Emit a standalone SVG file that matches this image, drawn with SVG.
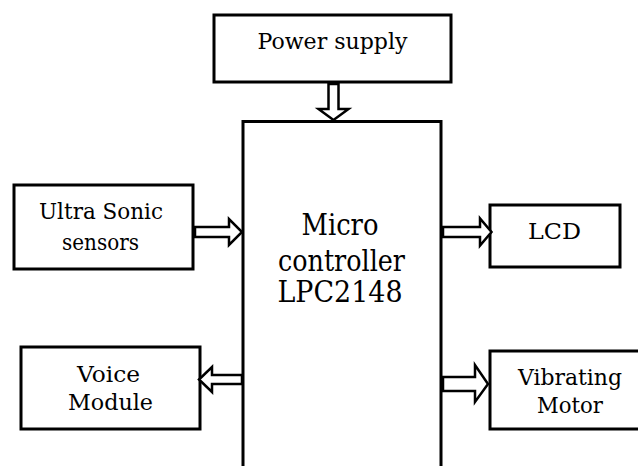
<svg xmlns="http://www.w3.org/2000/svg" width="638" height="466" viewBox="0 0 638 466">
<style>
  .box { fill: #fff; stroke: #000; stroke-width: 3; }
  .arr { fill: #fff; stroke: #000; stroke-width: 2.5; stroke-linejoin: miter; }
  text { font-family: 'DejaVu Serif', serif; fill: #000; text-anchor: middle; }
  .t { font-size: 23px; }
  .tm { font-size: 29px; }
</style>
<rect width="638" height="466" fill="#fff"/>
<g id="power-supply">
  <rect class="box" x="214" y="15" width="237" height="67"/>
  <text class="t" x="332.5" y="49" textLength="150" lengthAdjust="spacingAndGlyphs">Power supply</text>
</g>
<g id="microcontroller">
  <rect class="box" x="243" y="121.5" width="198" height="360"/>
  <text class="tm" x="340" y="235" textLength="77" lengthAdjust="spacingAndGlyphs">Micro</text>
  <text class="tm" x="341.5" y="271" textLength="127" lengthAdjust="spacingAndGlyphs">controller</text>
  <text class="tm" x="340" y="302" textLength="125" lengthAdjust="spacingAndGlyphs">LPC2148</text>
</g>
<g id="ultrasonic">
  <rect class="box" x="14" y="185" width="179" height="84"/>
  <text class="t" x="101" y="219" textLength="124" lengthAdjust="spacingAndGlyphs">Ultra Sonic</text>
  <text class="t" x="100.5" y="250" textLength="77" lengthAdjust="spacingAndGlyphs">sensors</text>
</g>
<g id="lcd">
  <rect class="box" x="490" y="205" width="130" height="62"/>
  <text class="t" x="554.5" y="239" textLength="53" lengthAdjust="spacingAndGlyphs">LCD</text>
</g>
<g id="voice-module">
  <rect class="box" x="21" y="347" width="179" height="82"/>
  <text class="t" x="108.5" y="382" textLength="63" lengthAdjust="spacingAndGlyphs">Voice</text>
  <text class="t" x="110.5" y="410" textLength="85" lengthAdjust="spacingAndGlyphs">Module</text>
</g>
<g id="vibrating-motor">
  <rect class="box" x="490" y="351" width="160" height="78"/>
  <text class="t" x="570" y="385" textLength="104" lengthAdjust="spacingAndGlyphs">Vibrating</text>
  <text class="t" x="570" y="413" textLength="66" lengthAdjust="spacingAndGlyphs">Motor</text>
</g>
<g id="connectors">
  <polygon class="arr" points="328.5,84 338.5,84 338.5,109 348.5,109 333.5,120 318.5,109 328.5,109"/>
  <polygon class="arr" points="195,227 229,227 229,219 242,232 229,245 229,237 195,237"/>
  <polygon class="arr" points="443,227 480,227 480,218.5 491.5,232 480,245.5 480,237 443,237"/>
  <polygon class="arr" points="242,375 212,375 212,367 199,379.5 212,392 212,384 242,384"/>
  <polygon class="arr" points="443,377 475,377 475,365 488,384 475,402 475,391 443,391"/>
</g>
</svg>
